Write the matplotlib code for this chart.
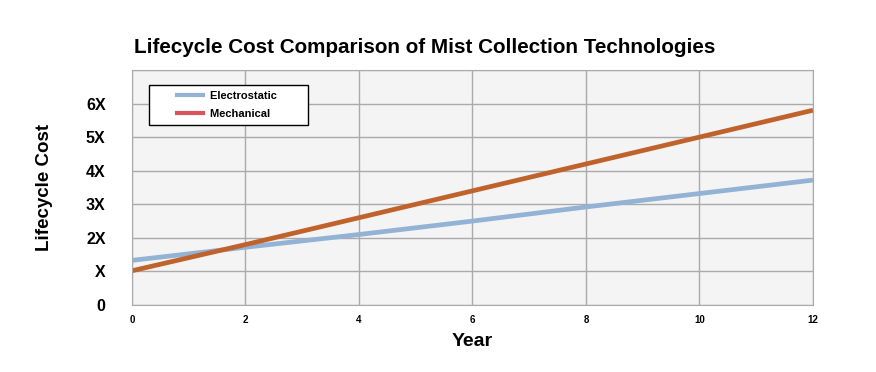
import matplotlib
matplotlib.use("Agg")
import numpy as np
import matplotlib.pyplot as plt
from matplotlib.lines import Line2D
from matplotlib.legend_handler import HandlerLine2D

plt.rcParams['font.family'] = ['Liberation Sans', 'DejaVu Sans']

# data
years = [0, 2, 4, 6, 8, 10, 12]
electrostatic = [1.33, 1.72, 2.1, 2.5, 2.92, 3.32, 3.72]
mechanical = [1.02, 1.8, 2.6, 3.4, 4.2, 5.0, 5.8]
y_ticks = [0, 1, 2, 3, 4, 5, 6]
y_labels = ["0", "X", "2X", "3X", "4X", "5X", "6X"]


class IndentedLine(HandlerLine2D):
    # legend swatch drawn only on the right part of the handle box
    def create_artists(self, legend, orig_handle, xdescent, ydescent,
                       width, height, fontsize, trans):
        arts = super().create_artists(legend, orig_handle, xdescent, ydescent,
                                      width, height, fontsize, trans)
        for a in arts:
            xd = np.asarray(a.get_xdata(), dtype=float)
            if len(xd) >= 2:
                x0, x1 = xd[0], xd[-1]
                a.set_xdata(np.linspace(x0 + 0.45 * (x1 - x0), x1, len(xd)))
        return arts


fig = plt.figure(figsize=(8.76, 3.72), dpi=100)
ax = fig.add_axes([0.1507, 0.180, 0.7773, 0.632])
ax.set_facecolor("#f4f4f4")

ax.plot(years, electrostatic, color="#93b3d4", lw=3.4, solid_capstyle="butt")
ax.plot(years, mechanical, color="#c0622b", lw=3.4, solid_capstyle="butt")

ax.set_xlim(0, 12)
ax.set_ylim(0, 7)
ax.set_xticks(years)
ax.set_yticks(range(0, 8))
ax.set_yticklabels(y_labels + [""])
ax.grid(True, color="#aaaaaa", lw=1)
ax.set_axisbelow(True)
for s in ax.spines.values():
    s.set_color("#aaaaaa")
ax.tick_params(axis="x", length=0, pad=7, labelsize=7)
ax.tick_params(axis="y", length=0, pad=19, labelsize=11.5)
for lab in ax.get_xticklabels() + ax.get_yticklabels():
    lab.set_fontweight("bold")

ax.set_xlabel("Year", fontsize=14, fontweight="bold")
ax.xaxis.set_label_coords(0.5, -0.12)
ax.set_ylabel("Lifecycle Cost", fontsize=13.5, fontweight="bold")
ax.yaxis.set_label_coords(-0.116, 0.5)

fig.text(0.485, 0.873, "Lifecycle Cost Comparison of Mist Collection Technologies",
         ha="center", va="center", fontsize=14.9, fontweight="bold")

handles = [Line2D([], [], color="#93b3d4", lw=3),
           Line2D([], [], color="#d9535a", lw=3)]
leg = ax.legend(handles, ["Electrostatic", "Mechanical"], loc="upper left",
                bbox_to_anchor=(0.025, 0.935), fancybox=False, framealpha=1,
                edgecolor="black", prop={"size": 8, "weight": "bold"},
                handlelength=4.3, borderpad=0.55, labelspacing=0.7,
                handletextpad=0.6, borderaxespad=0,
                handler_map={Line2D: IndentedLine()})
leg.get_frame().set_linewidth(1)
for t in leg.get_texts():
    t.set_text(t.get_text() + " " * 8)

fig.savefig("out.png", dpi=100)
